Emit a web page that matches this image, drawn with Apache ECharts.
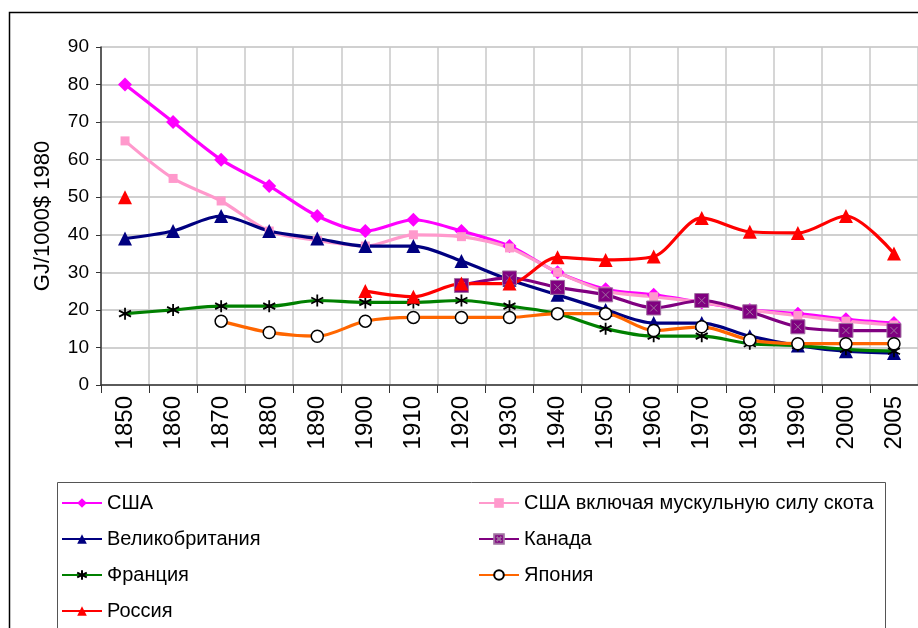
<!DOCTYPE html>
<html>
<head>
<meta charset="utf-8">
<script src="https://cdn.jsdelivr.net/npm/echarts@6/dist/echarts.min.js"></script>
<style>
  html, body { margin: 0; padding: 0; background: #fff; }
  #chart { width: 918px; height: 628px; }
</style>
</head>
<body>
<div id="chart"></div>
<script>
// годы по оси X
const years = ["1850", "1860", "1870", "1880", "1890", "1900", "1910", "1920", "1930",
  "1940", "1950", "1960", "1970", "1980", "1990", "2000", "2005"];
const yTicks = [0, 10, 20, 30, 40, 50, 60, 70, 80, 90];

// GJ/1000$ 1980
const usa = [80, 70, 60, 53, 45, 41, 44, 41, 37, 30, 25.5, 24, 22, 20, 19, 17.5, 16.5];
const usaMuscle = [65, 55, 49, 41, 38.5, 37, 40, 39.5, 36.5, 30, 25, 23.5, 22, 20, 18.5, 17, 16];
const uk = [39, 41, 45, 41, 39, 37, 37, 33, 28, 24, 20, 16.5, 16.5, 13, 10.5, 9, 8.5];
const canada = [null, null, null, null, null, null, null, 26.5, 28.5, 26, 24, 20.5, 22.5, 19.5, 15.5, 14.5, 14.5];
const france = [19, 20, 21, 21, 22.5, 22, 22, 22.5, 21, 19, 15, 13, 13, 11, 10.5, 9.5, 9];
const japan = [null, null, 17, 14, 13, 17, 18, 18, 18, 19, 19, 14.5, 15.5, 12, 11, 11, 11];
const russia = [50, null, null, null, null, 25, 23.5, 27, 27, 34, 33.3, 34.2, 44.5, 40.8, 40.5, 45, 35];

const font = "'Liberation Sans', Arial, sans-serif";
const starPath = "path://M5,0L5,10M0.7,2.5L9.3,7.5M0.7,7.5L9.3,2.5";
const boxXPath = "path://M0,0L10,0L10,10L0,10ZM2.5,2.5L7.5,7.5M2.5,7.5L7.5,2.5";

function makeLine(name, data, color, symbol, size, item) {
  return {
    name: name,
    type: "line",
    data: data,
    smooth: 0.3,
    connectNulls: false,
    symbol: symbol,
    symbolSize: size,
    showSymbol: true,
    lineStyle: { color: color, width: 3.2 },
    itemStyle: Object.assign({ color: color }, item || {}),
    emphasis: { disabled: true },
    z: 3
  };
}

const legendText = { fontSize: 20, color: "#000", lineHeight: 20, fontFamily: font };

const chart = echarts.init(document.getElementById("chart"));
const option = {
  animation: false,
  backgroundColor: "#fff",
  textStyle: { fontFamily: font },
  grid: { left: 101, right: -3, top: 47, bottom: 243 },
  xAxis: {
    type: "category",
    data: years,
    boundaryGap: true,
    axisLine: { lineStyle: { color: "#333", width: 1.5 } },
    axisTick: { show: true, length: 8, lineStyle: { color: "#333" } },
    axisLabel: { rotate: 90, fontSize: 24, color: "#000", margin: 11, fontFamily: font },
    splitLine: { show: true, lineStyle: { color: "#c8c8c8", width: 1.5 } }
  },
  yAxis: {
    type: "value",
    min: yTicks[0],
    max: yTicks[yTicks.length - 1],
    interval: 10,
    name: "GJ/1000$ 1980",
    nameLocation: "middle",
    nameRotate: 90,
    nameGap: 47,
    nameTextStyle: { fontSize: 22, color: "#000", fontFamily: font },
    axisLine: { show: true, lineStyle: { color: "#333", width: 1.5 } },
    axisTick: { show: true, length: 5, lineStyle: { color: "#333" } },
    axisLabel: { fontSize: 19, color: "#000", margin: 12, fontFamily: font },
    splitLine: { show: true, lineStyle: { color: "#d0d0d0", width: 2 } }
  },
  legend: [
    {
      orient: "vertical",
      left: 61, top: 493, padding: 0,
      itemWidth: 40, itemHeight: 12, itemGap: 16,
      textStyle: legendText,
      data: ["США", "Великобритания", "Франция", "Россия"]
    },
    {
      orient: "vertical",
      left: 478, top: 493, padding: 0,
      itemWidth: 40, itemHeight: 12, itemGap: 16,
      textStyle: legendText,
      data: ["США включая мускульную силу скота", "Канада", "Япония"]
    }
  ],
  graphic: [
    { type: "rect", shape: { x: 9.5, y: 12.5, width: 920, height: 640 }, style: { fill: null, stroke: "#000", lineWidth: 1.5 }, silent: true },
    { type: "rect", shape: { x: 57.5, y: 482.5, width: 828, height: 160 }, style: { fill: null, stroke: "#555", lineWidth: 1 }, silent: true }
  ],
  series: [
    makeLine("США", usa, "#ff00ff", "diamond", 14),
    makeLine("США включая мускульную силу скота", usaMuscle, "#ff99cc", "rect", 9),
    makeLine("Великобритания", uk, "#000080", "triangle", 14),
    makeLine("Канада", canada, "#800080", boxXPath, 14, { borderColor: "#a070a0", borderWidth: 1 }),
    makeLine("Франция", france, "#008000", starPath, 12, { color: "#000", borderColor: "#000", borderWidth: 1.8 }),
    makeLine("Япония", japan, "#ff6600", "circle", 12, { color: "#fff", borderColor: "#000", borderWidth: 1.5 }),
    makeLine("Россия", russia, "#ff0000", "triangle", 14)
  ]
};
chart.setOption(option);
</script>
</body>
</html>
